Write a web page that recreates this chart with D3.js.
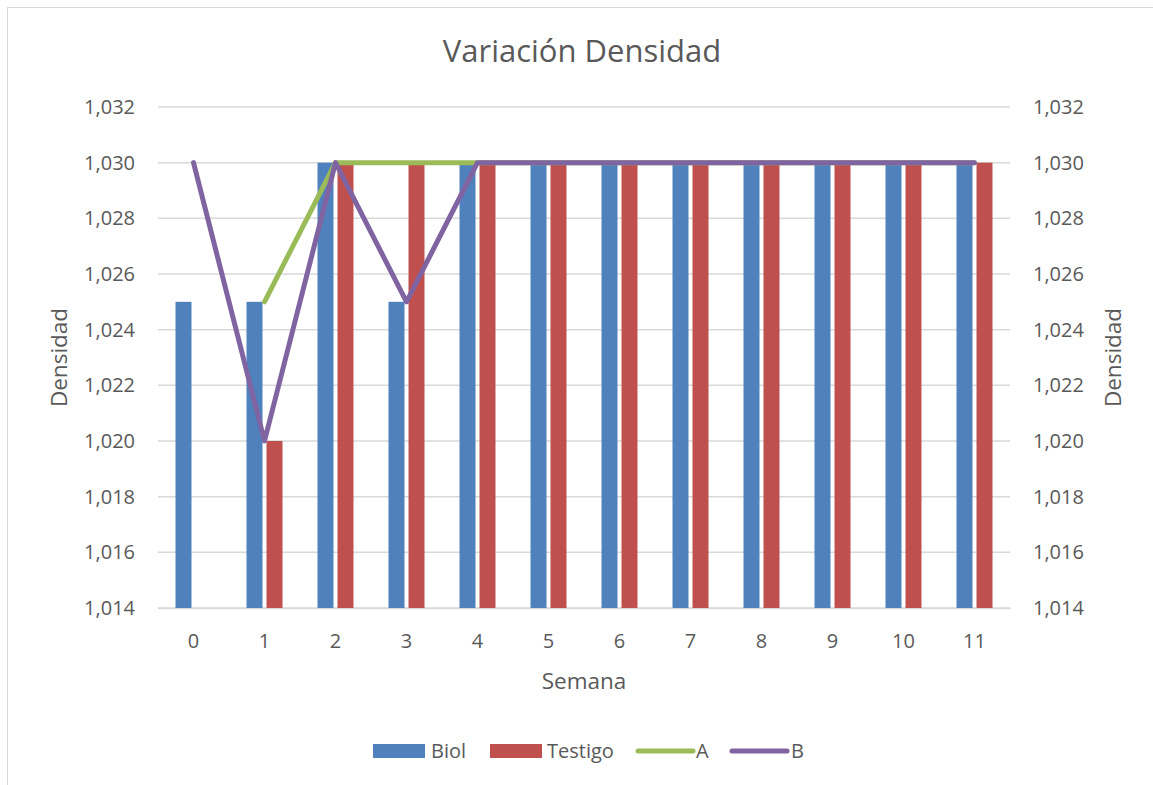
<!DOCTYPE html>
<html>
<head>
<meta charset="utf-8">
<script src="https://cdn.jsdelivr.net/npm/d3@7"></script>
<style>
  body { margin: 0; background: #fff; }
  text { font-family: "Open Sans", "Noto Sans", sans-serif; fill: #595959; }
</style>
</head>
<body>
<svg id="chart"></svg>
<script>
// data
const semanas = ["0", "1", "2", "3", "4", "5", "6", "7", "8", "9", "10", "11"];
const biol    = [1.025, 1.025, 1.030, 1.025, 1.030, 1.030, 1.030, 1.030, 1.030, 1.030, 1.030, 1.030];
const testigo = [null, 1.020, 1.030, 1.030, 1.030, 1.030, 1.030, 1.030, 1.030, 1.030, 1.030, 1.030];
const lineA   = [null, 1.025, 1.030, 1.030, 1.030, 1.030, 1.030, 1.030, 1.030, 1.030, 1.030, 1.030];
const lineB   = [1.030, 1.020, 1.030, 1.025, 1.030, 1.030, 1.030, 1.030, 1.030, 1.030, 1.030, 1.030];
const yTicks  = [1.014, 1.016, 1.018, 1.020, 1.022, 1.024, 1.026, 1.028, 1.030, 1.032];

const W = 1153, H = 785;
const margin = { top: 107, left: 158, right: 143, bottom: 177 };
const width = W - margin.left - margin.right;
const height = H - margin.top - margin.bottom;

const colors = { biol: "#4F81BD", testigo: "#C0504D", A: "#9BBB59", B: "#8064A2" };

const svg = d3.select("#chart").attr("width", W).attr("height", H);

// chart frame
svg.append("rect")
    .attr("x", 7.5).attr("y", 7.5)
    .attr("width", W + 20).attr("height", H + 20)
    .attr("fill", "none").attr("stroke", "#d9d9d9").attr("stroke-width", 1);

const chart = svg.append("g")
    .attr("transform", `translate(${margin.left},${margin.top})`);

const fmt = d3.formatLocale({ decimal: ",", thousands: ".", grouping: [3], currency: ["", "€"] }).format(".3f");

const x = d3.scaleBand().domain(semanas).range([0, width]);
const y = d3.scaleLinear().domain([1.014, 1.032]).range([height, 0]);

// gridlines
chart.append("g").selectAll("line")
    .data(yTicks)
    .join("line")
    .attr("x1", 0).attr("x2", width)
    .attr("y1", d => y(d)).attr("y2", d => y(d))
    .attr("stroke", "#d9d9d9").attr("stroke-width", 1.5);

// y axes (left + right)
const yLeft = chart.append("g")
    .call(d3.axisLeft(y).tickValues(yTicks).tickFormat(fmt).tickSize(0).tickPadding(23));
const yRight = chart.append("g")
    .attr("transform", `translate(${width},0)`)
    .call(d3.axisRight(y).tickValues(yTicks).tickFormat(fmt).tickSize(0).tickPadding(23));
[yLeft, yRight].forEach(g => {
    g.select(".domain").remove();
    g.selectAll("text").style("font-size", "20px").attr("fill", "#595959")
        .style("font-family", '"Open Sans", sans-serif');
});

// x axis
const xAxis = chart.append("g")
    .attr("transform", `translate(0,${height})`)
    .call(d3.axisBottom(x).tickSize(0).tickPadding(26));
xAxis.select(".domain").attr("stroke", "#d9d9d9").attr("stroke-width", 1.5);
xAxis.selectAll("text").style("font-size", "20px").attr("fill", "#595959")
    .style("font-family", '"Open Sans", sans-serif');

// bars
const barW = 16, gap = 4;
chart.append("g").selectAll("rect")
    .data(biol.map((v, i) => ({ cat: semanas[i], v })).filter(d => d.v != null))
    .join("rect")
    .attr("x", d => x(d.cat) + x.bandwidth() / 2 - gap / 2 - barW)
    .attr("width", barW)
    .attr("y", d => y(d.v))
    .attr("height", d => height - y(d.v))
    .attr("fill", colors.biol);

chart.append("g").selectAll("rect")
    .data(testigo.map((v, i) => ({ cat: semanas[i], v })).filter(d => d.v != null))
    .join("rect")
    .attr("x", d => x(d.cat) + x.bandwidth() / 2 + gap / 2)
    .attr("width", barW)
    .attr("y", d => y(d.v))
    .attr("height", d => height - y(d.v))
    .attr("fill", colors.testigo);

// lines
const line = d3.line()
    .defined(d => d.v != null)
    .x(d => x(d.cat) + x.bandwidth() / 2)
    .y(d => y(d.v));

[[lineA, colors.A], [lineB, colors.B]].forEach(([vals, c]) => {
    chart.append("path")
        .datum(vals.map((v, i) => ({ cat: semanas[i], v })))
        .attr("d", line)
        .attr("fill", "none")
        .attr("stroke", c)
        .attr("stroke-width", 5)
        .attr("stroke-linecap", "round")
        .attr("stroke-linejoin", "round");
});

// title and axis titles
svg.append("text")
    .attr("x", 582).attr("y", 62)
    .attr("text-anchor", "middle")
    .style("font-size", "31px")
    .text("Variación Densidad");

svg.append("text")
    .attr("x", 584).attr("y", 689)
    .attr("text-anchor", "middle")
    .style("font-size", "22.5px")
    .text("Semana");

svg.append("text")
    .attr("transform", `translate(67,${margin.top + height / 2}) rotate(-90)`)
    .attr("text-anchor", "middle")
    .style("font-size", "22.5px")
    .text("Densidad");

svg.append("text")
    .attr("transform", `translate(1121,${margin.top + height / 2}) rotate(-90)`)
    .attr("text-anchor", "middle")
    .style("font-size", "22.5px")
    .text("Densidad");

// legend
const legend = [
    { name: "Biol", color: colors.biol, type: "bar", x: 373, tx: 431 },
    { name: "Testigo", color: colors.testigo, type: "bar", x: 490, tx: 547 },
    { name: "A", color: colors.A, type: "line", x: 638, tx: 696 },
    { name: "B", color: colors.B, type: "line", x: 732, tx: 791 }
];
const lg = svg.append("g");
legend.forEach(d => {
    if (d.type === "bar") {
        lg.append("rect").attr("x", d.x).attr("y", 744).attr("width", 52).attr("height", 14).attr("fill", d.color);
    } else {
        lg.append("line").attr("x1", d.x).attr("x2", d.x + 55).attr("y1", 751).attr("y2", 751)
            .attr("stroke", d.color).attr("stroke-width", 5).attr("stroke-linecap", "round");
    }
    lg.append("text").attr("x", d.tx).attr("y", 758).style("font-size", "20px").text(d.name);
});
</script>
</body>
</html>
